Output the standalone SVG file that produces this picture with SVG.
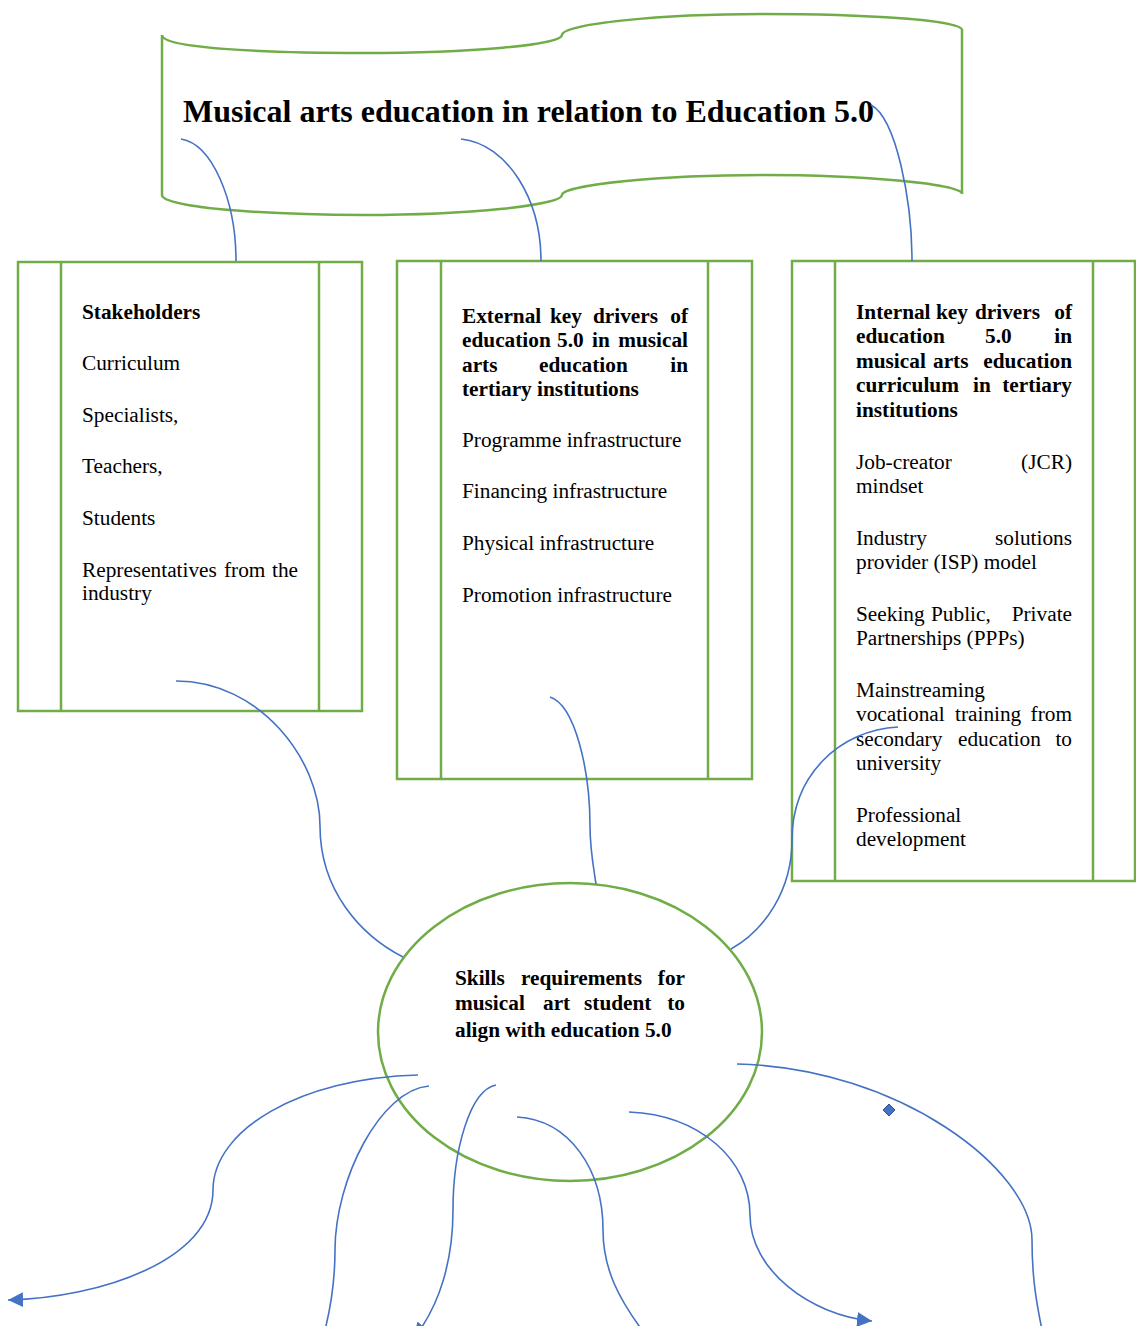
<svg xmlns="http://www.w3.org/2000/svg" width="1136" height="1326" viewBox="0 0 1136 1326">
<style>
.shape{fill:#fff;stroke:#70AD47;stroke-width:2.5}
.line{fill:none;stroke:#70AD47;stroke-width:2.5}
.conn{fill:none;stroke:#4472C4;stroke-width:1.6}
text{font-family:"Liberation Serif","Times New Roman",serif;font-size:21.3px;fill:#000}
.b{font-weight:bold}
.t{font-size:32px;font-weight:bold}
.e{text-anchor:end}
</style>
<defs>
<marker id="arr" markerUnits="userSpaceOnUse" markerWidth="16" markerHeight="16" refX="15" refY="7.5" orient="auto">
<path d="M0,0 L15,7.5 L0,15 Z" fill="#4472C4"/>
</marker>
</defs>
<rect width="1136" height="1326" fill="#fff"/>

<g id="title">
<path class="shape" d="M162,35 C162,48 260,53 363,53 C470,53 562,45 562,35 C562,24 660,14 762,14 C865,14 962,20 962,30 L962,194 C962,184 865,175 762,175 C660,175 562,185 562,195 C562,205 470,215 363,215 C260,215 162,207 162,195 Z"/>
<text class="t" x="183" y="122">Musical arts education in relation to Education 5.0</text>
</g>

<g id="stakeholders">
<rect class="shape" x="18" y="262" width="344" height="449"/>
<line class="line" x1="61" y1="262" x2="61" y2="711"/>
<line class="line" x1="319" y1="262" x2="319" y2="711"/>
<text class="b" x="82" y="319">Stakeholders</text>
<text x="82" y="370">Curriculum</text>
<text x="82" y="422">Specialists,</text>
<text x="82" y="473">Teachers,</text>
<text x="82" y="525">Students</text>
<text x="82" y="577">Representatives</text><text x="224" y="577">from</text><text class="e" x="298" y="577">the</text>
<text x="82" y="600">industry</text>
</g>

<g id="external">
<rect class="shape" x="397" y="261" width="355" height="518"/>
<line class="line" x1="441" y1="261" x2="441" y2="779"/>
<line class="line" x1="708" y1="261" x2="708" y2="779"/>
<text class="b" x="462" y="323">External</text><text class="b" x="550" y="323">key</text><text class="b" x="593" y="323">drivers</text><text class="b e" x="688" y="323">of</text>
<text class="b" x="462" y="347">education</text><text class="b" x="557" y="347">5.0</text><text class="b" x="592" y="347">in</text><text class="b e" x="688" y="347">musical</text>
<text class="b" x="462" y="372">arts</text><text class="b" x="539" y="372">education</text><text class="b e" x="688" y="372">in</text>
<text class="b" x="462" y="396">tertiary institutions</text>
<text x="462" y="447">Programme infrastructure</text>
<text x="462" y="498">Financing infrastructure</text>
<text x="462" y="550">Physical infrastructure</text>
<text x="462" y="602">Promotion infrastructure</text>
</g>

<g id="internal">
<rect class="shape" x="792" y="261" width="343" height="620"/>
<line class="line" x1="835" y1="261" x2="835" y2="881"/>
<line class="line" x1="1093" y1="261" x2="1093" y2="881"/>
<text class="b" x="856" y="319">Internal</text><text class="b" x="936" y="319">key</text><text class="b" x="975" y="319">drivers</text><text class="b e" x="1072" y="319">of</text>
<text class="b" x="856" y="343">education</text><text class="b" x="985" y="343">5.0</text><text class="b e" x="1072" y="343">in</text>
<text class="b" x="856" y="368">musical</text><text class="b" x="933" y="368">arts</text><text class="b e" x="1072" y="368">education</text>
<text class="b" x="856" y="392">curriculum</text><text class="b" x="973" y="392">in</text><text class="b e" x="1072" y="392">tertiary</text>
<text class="b" x="856" y="417">institutions</text>
<text x="856" y="469">Job-creator</text><text class="e" x="1072" y="469">(JCR)</text>
<text x="856" y="493">mindset</text>
<text x="856" y="545">Industry</text><text class="e" x="1072" y="545">solutions</text>
<text x="856" y="569">provider (ISP) model</text>
<text x="856" y="621">Seeking</text><text x="931" y="621">Public,</text><text class="e" x="1072" y="621">Private</text>
<text x="856" y="645">Partnerships (PPPs)</text>
<text x="856" y="697">Mainstreaming</text>
<text x="856" y="721">vocational</text><text x="955" y="721">training</text><text class="e" x="1072" y="721">from</text>
<text x="856" y="746">secondary</text><text x="958" y="746">education</text><text class="e" x="1072" y="746">to</text>
<text x="856" y="770">university</text>
<text x="856" y="822">Professional</text>
<text x="856" y="846">development</text>
</g>

<g id="skills">
<ellipse class="shape" cx="570" cy="1032" rx="192" ry="149"/>
<text class="b" x="455" y="985">Skills</text><text class="b" x="521" y="985">requirements</text><text class="b e" x="685" y="985">for</text>
<text class="b" x="455" y="1010">musical</text><text class="b" x="543" y="1010">art</text><text class="b" x="584" y="1010">student</text><text class="b e" x="685" y="1010">to</text>
<text class="b" x="455" y="1037">align with education 5.0</text>
</g>

<g id="connectors">
<path class="conn" d="M181,139 C212,144 236,200 236,261"/>
<path class="conn" d="M461,139 C508,144 541,200 541,261"/>
<path class="conn" d="M871,105 C896,118 912,200 912,261"/>
<path class="conn" d="M176,681 C260,681 320,760 320,826 C320,890 360,935 403,957"/>
<path class="conn" d="M550,697 C575,705 590,770 590,826 C590,850 594,870 596,884"/>
<path class="conn" d="M898,727 C840,730 792,775 792,840 C792,890 765,930 731,949"/>
<path class="conn" marker-end="url(#arr)" d="M418,1075 C300,1078 213,1130 213,1190 C213,1260 100,1298 8,1300"/>
<path class="conn" d="M429,1086 C380,1090 335,1180 335,1250 C335,1285 330,1310 325,1330"/>
<path class="conn" marker-end="url(#arr)" d="M496,1085 C470,1090 453,1150 453,1210 C453,1260 440,1305 414,1338"/>
<path class="conn" d="M517,1117 C570,1120 603,1170 603,1230 C603,1270 620,1300 642,1330"/>
<path class="conn" marker-end="url(#arr)" d="M629,1112 C700,1115 750,1160 750,1215 C750,1270 810,1315 872,1321"/>
<path class="conn" d="M737,1064 C900,1068 1032,1170 1032,1240 C1032,1280 1037,1305 1042,1330"/>
<polygon points="889,1104 895,1110 889,1116 883,1110" fill="#4472C4" stroke="#2F528F" stroke-width="1"/>
</g>
</svg>
